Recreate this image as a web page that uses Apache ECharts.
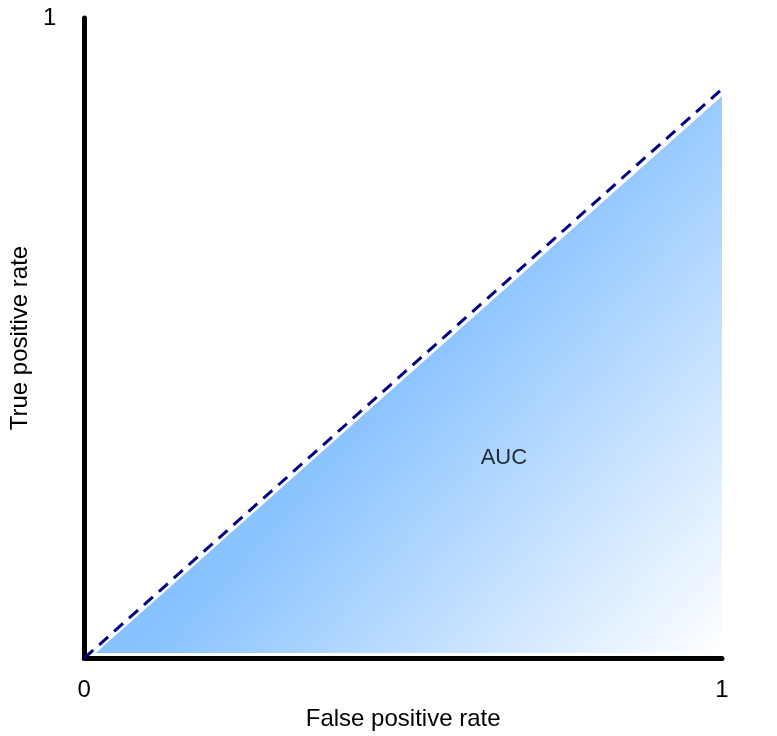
<!DOCTYPE html>
<html><head><meta charset="utf-8">
<script src="https://cdn.jsdelivr.net/npm/echarts@6/dist/echarts.min.js"></script>
<style>html,body{margin:0;padding:0;background:#fff}#c{width:777px;height:736px}</style>
</head><body><div id="c"></div>
<script>
const diagonal = [[0, 0], [1, 0.889]];
const aucArea = [[0.018, 0.008], [1, 0.878], [1, 0.008]];
const aucLabel = [[0.658, 0.312]];
const xTicks = ['0', '1'];
const yTicks = ['', '1'];

const chart = echarts.init(document.getElementById('c'));
chart.setOption({
  animation: false,
  grid: {left: 73, right: 55, top: 18, bottom: 68},
  xAxis: {
    type: 'value', min: 0, max: 1, interval: 1,
    name: 'False positive rate', nameLocation: 'middle', nameGap: 30,
    nameTextStyle: {fontFamily: 'Liberation Sans', fontSize: 24, color: '#000'},
    axisLine: {lineStyle: {color: '#000', width: 5}},
    axisTick: {show: false}, splitLine: {show: false},
    axisLabel: {fontFamily: 'Liberation Sans', fontSize: 24, color: '#000', margin: 20,
      formatter: (v) => xTicks[Math.round(v)]}
  },
  yAxis: {
    type: 'value', min: 0, max: 1, interval: 1,
    name: 'True positive rate', nameLocation: 'middle', nameGap: 42,
    nameTextStyle: {fontFamily: 'Liberation Sans', fontSize: 24, color: '#000'},
    axisLine: {lineStyle: {color: '#000', width: 5}},
    axisTick: {show: false}, splitLine: {show: false},
    axisLabel: {fontFamily: 'Liberation Sans', fontSize: 24, color: '#000', margin: 28,
      formatter: (v) => yTicks[Math.round(v)]}
  },
  series: [
    {
      type: 'custom',
      data: [0],
      renderItem: function (params, api) {
        const pts = aucArea.map(p => api.coord(p));
        return {
          type: 'polygon',
          shape: {points: pts},
          style: {
            fill: new echarts.graphic.LinearGradient(0, 0, 1, 1, [
              {offset: 0, color: '#5aaaff'},
              {offset: 0.5, color: '#8cc4ff'},
              {offset: 1, color: '#ffffff'}
            ])
          }
        };
      },
      silent: true, z: 1
    },
    {
      type: 'line', data: diagonal, symbol: 'none', z: 3,
      lineStyle: {color: '#000080', width: 3, type: [12, 8]}
    },
    {
      type: 'scatter', data: aucLabel, symbolSize: 0, z: 4,
      label: {show: true, position: 'inside', formatter: 'AUC',
        fontFamily: 'Liberation Sans', fontSize: 22, color: '#000'}
    }
  ]
});
</script></body></html>
